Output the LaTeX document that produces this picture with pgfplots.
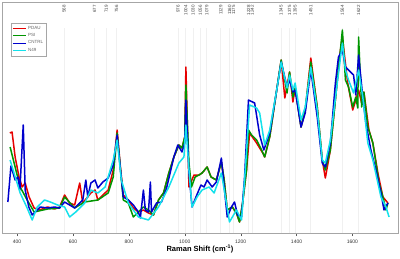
\documentclass[border=0pt]{standalone}
\usepackage{pgfplots}
\pgfplotsset{compat=1.18}
\usepackage{fontspec}
\setmainfont{Liberation Sans}
\definecolor{cPD}{RGB}{230,0,0}
\definecolor{cPS}{RGB}{0,150,0}
\definecolor{cCN}{RGB}{0,0,205}
\definecolor{cN4}{RGB}{20,225,235}
\begin{document}
\begin{tikzpicture}
\useasboundingbox (-2pt,-25pt) rectangle (398pt,233pt);
\begin{axis}[
  scale only axis,
  width=396pt, height=231pt,
  xmin=346, xmax=1763, ymin=0, ymax=231,
  axis line style={gray!70},
  xtick={400,600,...,1600},
  ytick=\empty,
  tick pos=bottom,
  tick align=outside,
  major tick length=3pt,
  tick style={gray!70!black},
  xticklabel style={font=\fontsize{5}{6}\selectfont, text=black!80},
  /pgf/number format/assume math mode=true,
  /pgf/number format/1000 sep={},
  xlabel={\textbf{Raman Shift (cm\textsuperscript{-1})}},
  xlabel style={font=\fontsize{7.5}{9}\selectfont, yshift=5pt},
  legend style={at={(0.022,0.91)}, anchor=north west, draw=gray!70,
    font=\fontsize{4.5}{5}\selectfont, text=gray!80!black, row sep=-1.5pt,
    inner sep=1.5pt},
  legend cell align=left,
  legend image post style={xscale=0.75, line width=0.9pt},
  every axis plot/.append style={line width=1.5pt, line join=round},
]
\pgfplotsinvokeforeach{568,677,719,756,976,1004,1030,1056,1079,1129,1160,1175,1228,1242,1345,1375,1395,1451,1564,1622}{
  \draw[gray!12, line width=0.8pt] (axis cs:#1,0) -- (axis cs:#1,205);
  \node[rotate=90, anchor=east, font=\fontsize{4.5}{5}\selectfont, text=black!75, inner sep=0pt] at (axis cs:#1,228) {#1};
}
\addplot[cPD] coordinates {
(374,100) (382,101) (393,76) (407,56) (418,46) (429,50) (443,36) (461,25) (480,23) (509,26) (534,24) (552,26) (570,38) (588,30) (606,28) (624,50) (635,30) (664,40) (679,43) (689,33) (707,38) (726,43) (744,63) (758,103) (769,68) (780,38) (798,33) (816,25) (834,21) (852,23) (870,20) (888,18) (906,33) (924,40) (943,60) (961,76) (979,88) (990,85) (1000,96) (1004,166) (1015,46) (1033,58) (1051,58) (1062,60) (1080,66) (1094,56) (1113,53) (1131,71) (1141,53) (1152,23) (1170,26) (1185,20) (1196,11) (1207,30) (1221,63) (1232,100) (1257,90) (1279,80) (1286,76) (1304,96) (1322,130) (1345,173) (1358,135) (1375,161) (1387,131) (1395,145) (1416,106) (1431,123) (1451,175) (1474,126) (1492,73) (1503,55) (1521,83) (1547,156) (1557,183) (1564,196) (1583,150) (1601,123) (1612,133) (1622,143) (1633,130) (1641,141) (1659,103) (1673,90) (1691,60) (1709,36) (1727,30)
};
\addlegendentry{PDAU}
\addplot[cPS] coordinates {
(375,86) (393,66) (411,46) (436,33) (461,21) (509,24) (552,25) (570,36) (606,25) (642,31) (689,33) (726,40) (744,56) (758,100) (780,33) (798,30) (816,16) (834,21) (852,26) (870,23) (888,18) (906,33) (924,40) (943,60) (961,76) (979,88) (990,85) (1000,96) (1004,148) (1015,70) (1024,46) (1037,56) (1051,58) (1062,60) (1080,66) (1094,56) (1113,53) (1131,71) (1141,53) (1152,23) (1170,26) (1185,20) (1196,11) (1207,30) (1221,63) (1228,103) (1239,98) (1257,93) (1275,83) (1286,76) (1304,96) (1322,130) (1345,173) (1366,140) (1375,161) (1387,136) (1395,145) (1416,106) (1431,123) (1451,171) (1474,126) (1492,73) (1503,63) (1521,83) (1547,156) (1557,183) (1564,203) (1575,153) (1586,146) (1601,126) (1612,136) (1619,125) (1622,196) (1633,126) (1641,141) (1655,106) (1673,90) (1684,70) (1695,50) (1709,36) (1720,23) (1727,30)
};
\addlegendentry{PSI}
\addplot[cCN] coordinates {
(367,31) (378,67) (393,53) (403,56) (410,43) (422,108) (429,43) (442,26) (454,18) (465,21) (483,26) (509,25) (534,26) (552,25) (570,31) (588,28) (606,25) (624,30) (635,33) (646,53) (653,36) (664,50) (679,53) (689,45) (707,51) (726,55) (744,68) (758,98) (769,66) (780,36) (798,33) (816,28) (834,21) (841,15) (852,43) (859,23) (870,21) (877,51) (881,21) (899,30) (917,31) (935,45) (961,76) (975,88) (990,81) (1000,90) (1004,133) (1015,60) (1026,26) (1040,36) (1058,48) (1069,46) (1080,53) (1098,46) (1113,51) (1131,75) (1141,46) (1152,16) (1167,26) (1178,31) (1189,18) (1203,16) (1214,56) (1228,133) (1250,130) (1268,98) (1283,83) (1304,100) (1329,143) (1345,171) (1366,146) (1375,153) (1387,141) (1395,143) (1416,106) (1431,120) (1451,163) (1474,116) (1492,70) (1503,66) (1521,90) (1539,150) (1550,176) (1564,183) (1575,166) (1586,163) (1604,158) (1612,138) (1622,178) (1637,136) (1648,110) (1666,83) (1684,63) (1702,40) (1713,23) (1727,30)
};
\addlegendentry{CNTRL}
\addplot[cN4] coordinates {
(375,73) (389,60) (411,40) (436,25) (454,13) (472,26) (498,33) (519,31) (545,28) (570,26) (588,16) (610,21) (642,30) (664,43) (689,40) (715,46) (744,73) (758,93) (773,53) (798,30) (834,16) (870,13) (906,26) (943,46) (979,70) (997,76) (1004,108) (1015,63) (1026,26) (1044,36) (1062,43) (1087,46) (1105,40) (1131,60) (1149,30) (1160,11) (1185,23) (1203,13) (1214,53) (1232,128) (1257,125) (1268,120) (1286,88) (1304,103) (1329,143) (1345,171) (1366,145) (1375,158) (1387,143) (1395,150) (1416,113) (1431,126) (1451,166) (1474,123) (1492,73) (1503,70) (1521,93) (1547,153) (1564,190) (1575,163) (1586,153) (1604,140) (1622,163) (1637,136) (1655,90) (1673,73) (1691,50) (1702,36) (1720,26) (1731,16)
};
\addlegendentry{N49}
\end{axis}
\end{tikzpicture}
\end{document}
